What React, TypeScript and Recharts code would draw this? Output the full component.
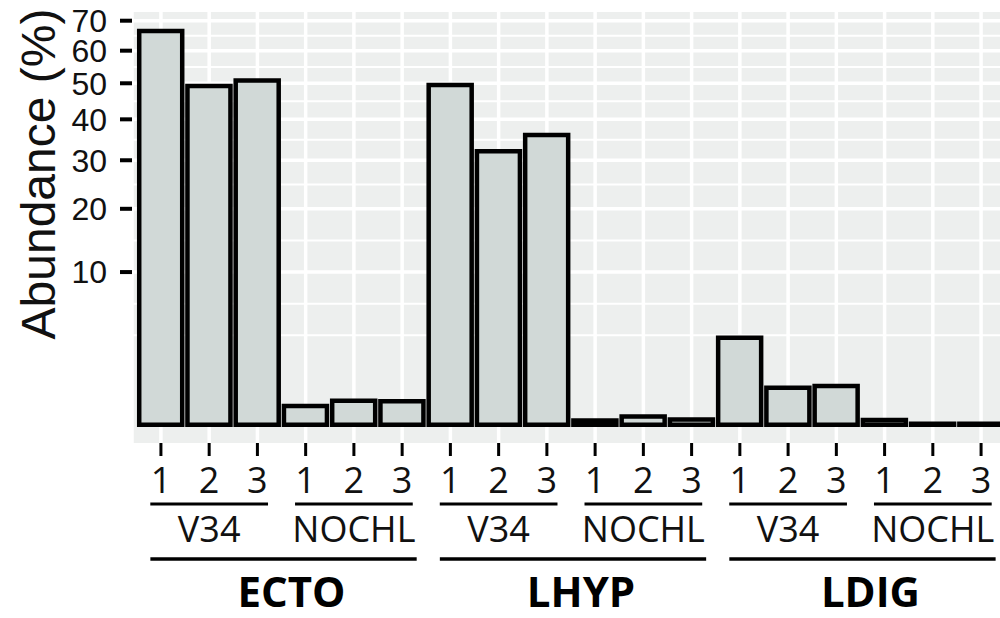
import React from "react";
import { BarChart, Bar, XAxis, YAxis, CartesianGrid } from "recharts";

// sample layout: 3 tissues x 2 primer sets x 3 replicates
const groups = ["ECTO", "LHYP", "LDIG"];
const primers = ["V34", "NOCHL"];
const reps = ["1", "2", "3"];

// abundance (%) per replicate, V34 1-3 then NOCHL 1-3
const ectoValues = [66.5, 49.2, 50.8, 0.15, 0.25, 0.24];
const lhypValues = [49.5, 32.1, 36.0, 0.008, 0.03, 0.012];
const ldigValues = [3.25, 0.59, 0.645, 0.01, 0.0004, 0.0004];

const yTicks = [10, 20, 30, 40, 50, 60, 70];
const yDomain = [-0.142, 73.05];

const valuesByGroup = [ectoValues, lhypValues, ldigValues];

const data = groups.flatMap((g, gi) =>
  primers.flatMap((p, pi) =>
    reps.map((r, ri) => ({
      key: `${g}-${p}-${r}`,
      group: g,
      primer: p,
      rep: r,
      abundance: valuesByGroup[gi][pi * 3 + ri],
    }))
  )
);

// ggplot-style minor breaks: midpoints in sqrt space, extended one step below
const sq = yTicks.map(Math.sqrt);
const step = sq[1] - sq[0];
const ext = [sq[0] - step, ...sq];
const minorValues: number[] = [];
for (let i = 0; i < ext.length - 1; i++) {
  minorValues.push(ext[i] * ext[i]);
  const m = (ext[i] + ext[i + 1]) / 2;
  minorValues.push(m * m);
}
minorValues.push(ext[ext.length - 1] ** 2);

const labelFont = "'Open Sans', 'Noto Sans', sans-serif";
const axisFont = "'Liberation Sans', Arial, sans-serif";

function GroupTick(props: any) {
  const { x, y, payload, index } = props;
  const band = (payload?.offset ?? 24.125) * 2;
  const row = data[index];
  if (!row) return null;
  const sub = index % 3;
  const inGroup = index % 6;
  return (
    <g>
      <text
        x={x}
        y={y + 35}
        textAnchor="middle"
        fontSize={36}
        fontFamily={labelFont}
        fill="#111"
      >
        {row.rep}
      </text>
      {sub === 1 && (
        <>
          <line
            x1={x - band * 1.22}
            x2={x + band * 1.22}
            y1={y + 46}
            y2={y + 46}
            stroke="#000"
            strokeWidth={3}
          />
          <text
            x={x}
            y={y + 84}
            textAnchor="middle"
            fontSize={36}
            fontFamily={labelFont}
            fill="#111"
          >
            {row.primer}
          </text>
        </>
      )}
      {inGroup === 2 && (
        <>
          <line
            x1={x + band / 2 - band * 2.76 + 2}
            x2={x + band / 2 + band * 2.76 + 2}
            y1={y + 101}
            y2={y + 101}
            stroke="#000"
            strokeWidth={3.5}
          />
          <text
            x={x + band / 2 + 10}
            y={y + 149}
            textAnchor="middle"
            fontSize={42}
            fontWeight="bold"
            fontFamily={labelFont}
            fill="#000"
          >
            {row.group}
          </text>
        </>
      )}
    </g>
  );
}

function YTitle(props: any) {
  const vb = props.viewBox || { x: 0, y: 12 };
  const cx = vb.x + 38;
  const cy = vb.y + 162;
  return (
    <text
      x={cx}
      y={cy}
      transform={`rotate(-90, ${cx}, ${cy})`}
      textAnchor="middle"
      dominantBaseline="central"
      fontSize={48}
      fontFamily={axisFont}
      fill="#111"
    >
      Abundance (%)
    </text>
  );
}

export default function App() {
  return (
    <div
      style={{
        position: "absolute",
        left: 0,
        top: 0,
        width: 1000,
        height: 618,
        overflow: "hidden",
        background: "#fff",
      }}
    >
      <BarChart
        width={1010}
        height={618}
        data={data}
        margin={{ top: 12, right: 0, bottom: 0, left: 0 }}
        barCategoryGap="5%"
      >
        <CartesianGrid
          fill="#edefee"
          stroke="#fff"
          strokeWidth={2}
          vertical={false}
          horizontalValues={minorValues}
        />
        <CartesianGrid stroke="#fff" strokeWidth={3.5} horizontalValues={yTicks} />
        <XAxis
          dataKey="key"
          interval={0}
          height={175}
          padding={{ left: 4.8, right: 4.8 }}
          axisLine={false}
          tickSize={13}
          tickLine={{ stroke: "#000", strokeWidth: 3 }}
          tick={<GroupTick />}
        />
        <YAxis
          scale="sqrt"
          domain={yDomain}
          ticks={yTicks}
          interval={0}
          allowDataOverflow
          width={132}
          axisLine={false}
          tickSize={12}
          tickMargin={13}
          tickLine={{ stroke: "#000", strokeWidth: 4 }}
          tick={{ fill: "#111", fontSize: 32, fontFamily: axisFont }}
          label={<YTitle />}
        />
        <Bar
          dataKey="abundance"
          fill="#d1d9d7"
          stroke="#000"
          strokeWidth={4.5}
          isAnimationActive={false}
        />
      </BarChart>
    </div>
  );
}
